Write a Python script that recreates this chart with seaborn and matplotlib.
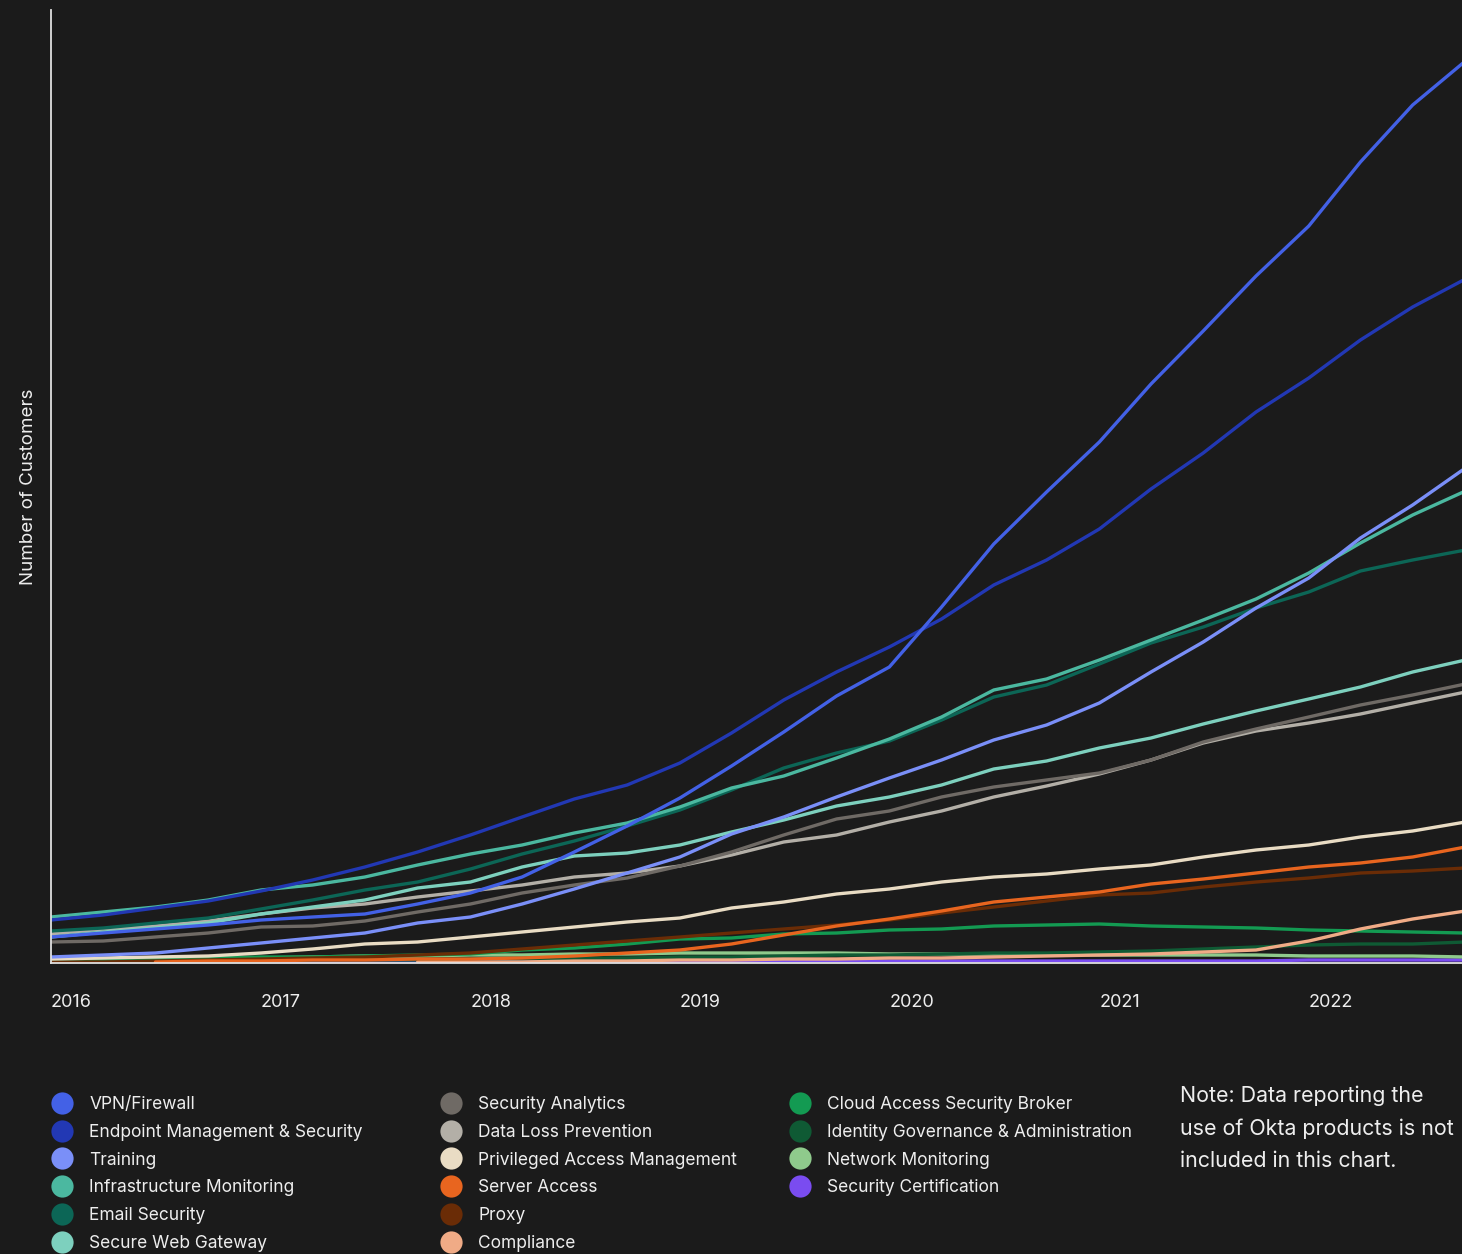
import numpy as np
import pandas as pd
import seaborn as sns
import matplotlib.pyplot as plt
import matplotlib.dates as mdates
from matplotlib.lines import Line2D

# quarterly readings, values in arbitrary "customer" units (no y ticks on the chart)
quarters = pd.date_range('2016-01-01', periods=28, freq='QS')
nan = np.nan

vpn_firewall = [26, 30, 34, 38, 43, 46, 49, 59, 70, 86, 111, 137, 165, 197, 231, 267,
                296, 356, 419, 471, 521, 579, 632, 687, 737, 801, 858, 902]
endpoint_mgmt = [43, 48, 55, 62, 72, 83, 96, 111, 128, 146, 164, 178, 200, 230, 263, 291,
                 316, 344, 378, 403, 434, 474, 510, 551, 585, 623, 656, 684]
training = [6, 8, 10, 15, 20, 25, 30, 40, 46, 59, 74, 90, 106, 129, 146, 166,
            185, 203, 223, 238, 260, 291, 321, 355, 385, 425, 458, 495]
infra_monitoring = [46, 51, 56, 63, 73, 78, 86, 98, 109, 118, 130, 140, 156, 175, 187, 205,
                    224, 246, 273, 284, 303, 323, 343, 364, 390, 420, 448, 472]
email_security = [32, 35, 40, 45, 54, 63, 73, 81, 94, 109, 122, 137, 153, 173, 195, 210,
                  222, 243, 266, 278, 299, 320, 336, 355, 371, 392, 403, 413]
secure_web_gateway = [26, 31, 35, 40, 49, 56, 63, 75, 81, 96, 107, 110, 118, 131, 143, 157,
                      166, 178, 194, 202, 215, 225, 239, 252, 264, 276, 291, 303]
security_analytics = [21, 22, 26, 30, 36, 37, 42, 51, 59, 70, 78, 85, 97, 111, 128, 144,
                      152, 166, 176, 183, 190, 203, 221, 234, 246, 258, 268, 279]
data_loss_prevention = [29, 34, 37, 42, 49, 55, 59, 66, 72, 78, 86, 90, 97, 108, 121, 128,
                        141, 152, 166, 177, 189, 203, 220, 232, 240, 249, 260, 271]
privileged_access = [4, 5, 6, 7, 10, 14, 19, 21, 26, 31, 36, 41, 45, 55, 61, 69,
                     74, 81, 86, 89, 94, 98, 106, 113, 118, 126, 132, 141]
server_access = [nan, nan, 1, 2, 2, 3, 3, 4, 4, 5, 7, 10, 13, 19, 28, 37,
                 44, 52, 61, 66, 71, 79, 84, 90, 96, 100, 106, 116]
proxy = [1, 1, 2, 3, 4, 5, 6, 8, 10, 14, 18, 22, 26, 30, 34, 38,
         43, 50, 56, 62, 68, 70, 76, 81, 85, 90, 92, 95]
compliance = [nan, nan, nan, nan, nan, nan, nan, 1, 1, 1, 2, 2, 3, 3, 4, 4,
              5, 5, 6, 7, 8, 9, 11, 13, 22, 34, 44, 52]
casb = [2, 3, 4, 5, 6, 6, 7, 8, 9, 13, 15, 19, 24, 25, 29, 30,
        33, 34, 37, 38, 39, 37, 36, 35, 33, 32, 31, 30]
identity_governance = [1, 1, 2, 2, 2, 3, 3, 3, 4, 4, 5, 5, 6, 6, 7, 8,
                       8, 9, 10, 10, 11, 12, 14, 16, 18, 19, 19, 21]
network_monitoring = [3, 3, 4, 5, 5, 6, 7, 7, 8, 8, 9, 9, 10, 10, 10, 10,
                      9, 9, 9, 9, 8, 8, 8, 8, 7, 7, 7, 6]
security_certification = [nan, nan, 1, 1, 1, 1, 1, 1, 1, 1, 1, 1, 1, 1, 2, 2,
                          2, 2, 2, 2, 2, 2, 2, 2, 3, 3, 3, 3]

categories = ['VPN/Firewall', 'Endpoint Management & Security', 'Training',
              'Infrastructure Monitoring', 'Email Security', 'Secure Web Gateway',
              'Security Analytics', 'Data Loss Prevention', 'Privileged Access Management',
              'Server Access', 'Proxy', 'Compliance',
              'Cloud Access Security Broker', 'Identity Governance & Administration',
              'Network Monitoring', 'Security Certification']
series = [vpn_firewall, endpoint_mgmt, training, infra_monitoring, email_security,
          secure_web_gateway, security_analytics, data_loss_prevention, privileged_access,
          server_access, proxy, compliance, casb, identity_governance,
          network_monitoring, security_certification]
colors = ['#4361e6', '#2238b4', '#7a8ff8', '#4bb8a0', '#0c6656', '#7dd0be',
          '#6f6a65', '#b3afa7', '#e9dcc4', '#e8651f', '#6a2c06', '#f0ab86',
          '#139a52', '#0f5a34', '#8fca8c', '#7a4cf0']
palette = dict(zip(categories, colors))

df = pd.DataFrame({name: vals for name, vals in zip(categories, series)})
df['quarter'] = quarters
df = df.melt(id_vars='quarter', var_name='category', value_name='customers').dropna()

BG = '#1b1b1b'
FG = '#eeeeee'

sns.set_style('dark', {'axes.facecolor': BG, 'figure.facecolor': BG})
plt.rcParams['font.family'] = ['Inter', 'DejaVu Sans']

fig = plt.figure(figsize=(14.62, 12.54), dpi=100)
ax = fig.add_axes([51 / 1462, 1 - 963 / 1254, 1411 / 1462, 953 / 1254])

# first legend entry drawn last so it sits on top
sns.lineplot(data=df, x='quarter', y='customers', hue='category',
             hue_order=categories[::-1], palette=palette, linewidth=2.4,
             legend=False, ax=ax)

ax.set_xlim(pd.Timestamp('2016-01-01'), pd.Timestamp('2022-09-25'))
ax.set_ylim(0, 953)
ax.set_yticks([])
ax.set_xlabel('')
ax.set_ylabel('Number of Customers', fontsize=13.5, color=FG, labelpad=10)
ax.xaxis.set_major_locator(mdates.YearLocator())
ax.xaxis.set_major_formatter(mdates.DateFormatter('%Y'))
ax.tick_params(axis='x', length=0, pad=22, labelsize=13, colors=FG)
for lbl in ax.get_xticklabels():
    lbl.set_horizontalalignment('left')
ax.grid(False)
for side in ['top', 'right']:
    ax.spines[side].set_visible(False)
for side in ['left', 'bottom']:
    ax.spines[side].set_color('#e0e0e0')
    ax.spines[side].set_linewidth(1.3)

# legend in three columns
col_x = [53, 442, 791]
col_items = [categories[0:6], categories[6:12], categories[12:16]]
for x0, items in zip(col_x, col_items):
    handles = [Line2D([], [], marker='o', linestyle='', markersize=16,
                      markerfacecolor=palette[c], markeredgewidth=0) for c in items]
    fig.legend(handles, items, loc='upper left',
               bbox_to_anchor=(x0 / 1462, 1 - 1096 / 1254),
               frameon=False, fontsize=12.5, labelcolor=FG,
               handlelength=1.0, handletextpad=1.1, labelspacing=0.62,
               borderpad=0, borderaxespad=0)

fig.text(1180 / 1462, 1 - 1086 / 1254,
         'Note: Data reporting the\nuse of Okta products is not\nincluded in this chart.',
         fontsize=15.4, color=FG, va='top', ha='left', linespacing=1.74)

fig.savefig('out.png', dpi=100, facecolor=BG)
